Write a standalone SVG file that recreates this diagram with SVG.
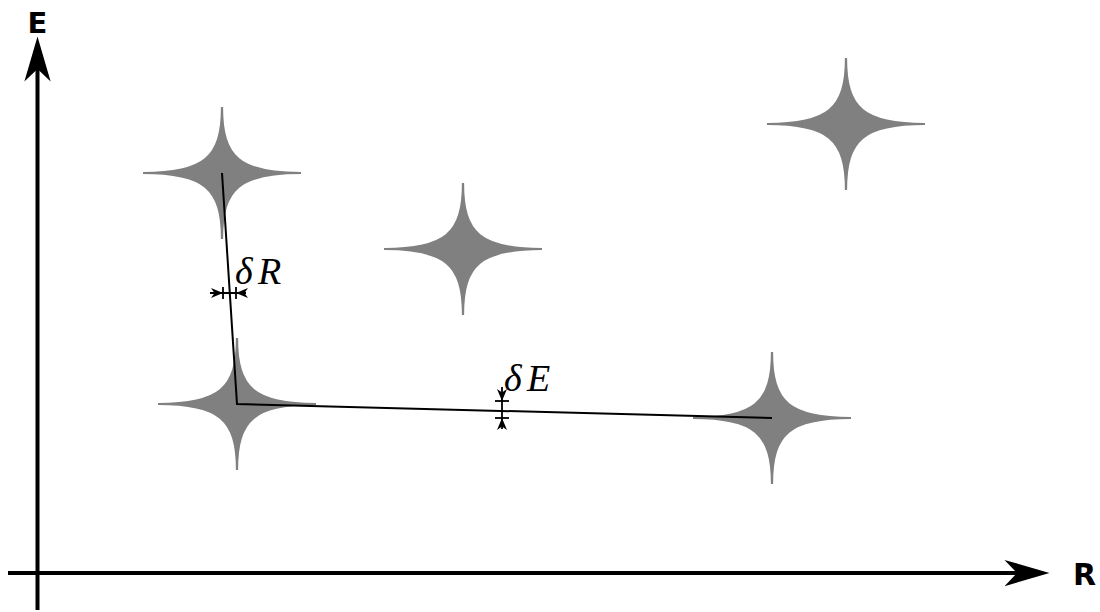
<svg xmlns="http://www.w3.org/2000/svg" xmlns:xlink="http://www.w3.org/1999/xlink" width="1100" height="612" viewBox="0 0 1100 612">
<style>
.star{fill:#808080;stroke:#808080;stroke-width:2.2;stroke-linejoin:miter}
.axis{stroke:#000;stroke-width:4;fill:none}
.path{stroke:#000;stroke-width:2;fill:none}
.dim{stroke:#000;stroke-width:1.8;fill:none}
.lbl{font-family:"DejaVu Sans",sans-serif;font-weight:bold;fill:#000}
.math{font-family:"Liberation Serif","Times New Roman",serif;font-style:italic;fill:#000;font-size:38px}
</style>
<defs>
<path id="starShape" class="star" d="M0,-66 C0,-15 18,0 79,0 C18,0 0,15 0,66 C0,15 -18,0 -79,0 C-18,0 0,-15 0,-66 Z"/>
<marker id="bigArrow" markerUnits="userSpaceOnUse" markerWidth="50" markerHeight="30" viewBox="-12 -12 40 24" refX="0" refY="0" orient="auto" overflow="visible">
<path d="M26,0 L-10,-10.5 L0,0 L-10,10.5 Z" fill="#000"/>
</marker>
<path id="smallArrow" d="M0,0 L-12,-5 L-8.5,0 L-12,5 Z" fill="#000"/>
</defs>

<g id="axes">
<line class="axis" x1="37.5" y1="610" x2="37.5" y2="69" marker-end="url(#bigArrow)"/>
<line class="axis" x1="8" y1="573" x2="1017" y2="573" marker-end="url(#bigArrow)"/>
<text class="lbl" x="37.5" y="33" font-size="29" text-anchor="middle">E</text>
<text class="lbl" x="1073" y="585" font-size="30">R</text>
</g>

<g id="star1"><use xlink:href="#starShape" transform="translate(222,173)"/></g>
<g id="star2"><use xlink:href="#starShape" transform="translate(463,249)"/></g>
<g id="star3"><use xlink:href="#starShape" transform="translate(846,124)"/></g>
<g id="star4"><use xlink:href="#starShape" transform="translate(237,404)"/></g>
<g id="star5"><use xlink:href="#starShape" transform="translate(772,418)"/></g>

<g id="connectors">
<polyline class="path" points="222,173 237,404 772,418"/>
</g>

<g id="deltaR">
<line class="dim" x1="210" y1="293" x2="246" y2="293"/>
<line class="dim" x1="223" y1="287" x2="223" y2="299"/>
<line class="dim" x1="236" y1="287" x2="236" y2="299"/>
<use xlink:href="#smallArrow" transform="translate(223,293)"/>
<use xlink:href="#smallArrow" transform="translate(236,293) rotate(180)"/>
<text class="math" x="235" y="284">δ<tspan x="258">R</tspan></text>
</g>

<g id="deltaE">
<line class="dim" x1="502" y1="387" x2="502" y2="429"/>
<line class="dim" x1="495" y1="401" x2="509" y2="401"/>
<line class="dim" x1="495" y1="418" x2="509" y2="418"/>
<use xlink:href="#smallArrow" transform="translate(502,401) rotate(90)"/>
<use xlink:href="#smallArrow" transform="translate(502,418) rotate(-90)"/>
<text class="math" x="504" y="391">δ<tspan x="527">E</tspan></text>
</g>
</svg>
